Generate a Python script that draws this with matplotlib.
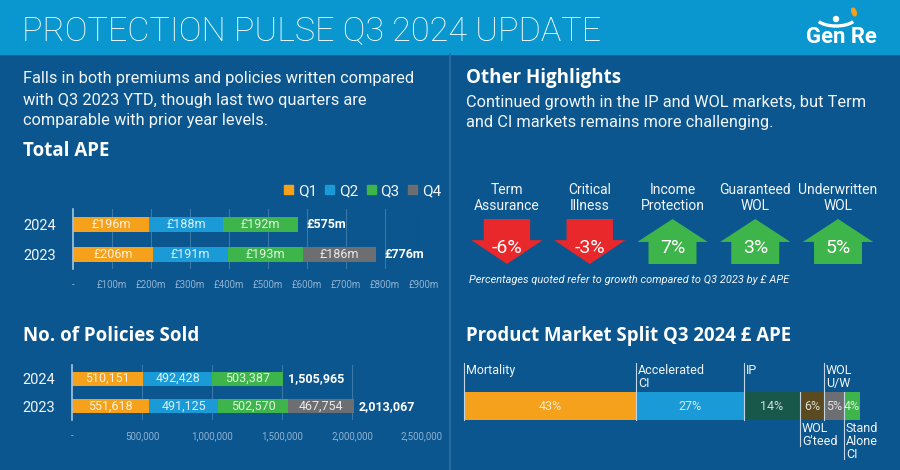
import matplotlib
matplotlib.use('Agg')
import matplotlib.pyplot as plt
from matplotlib.patches import Rectangle, Polygon, Arc, Ellipse
from matplotlib.lines import Line2D
from matplotlib.transforms import Affine2D
import matplotlib.ticker as mticker
import numpy as np

# ---------------- data ----------------
years = ['2024', '2023']
quarters = ['Q1', 'Q2', 'Q3', 'Q4']

ape_q1 = [196, 206]
ape_q2 = [188, 191]
ape_q3 = [192, 193]
ape_q4 = [0, 186]
ape_total = [575, 776]

pol_q1 = [510151, 551618]
pol_q2 = [492428, 491125]
pol_q3 = [503387, 502570]
pol_q4 = [0, 467754]
pol_total = [1505965, 2013067]

products = ['Term\nAssurance', 'Critical\nIllness', 'Income\nProtection',
            'Guaranteed\nWOL', 'Underwritten\nWOL']
growth = [-6, -3, 7, 3, 5]

split_labels = ['Mortality', 'Accelerated\nCI', 'IP', "WOL\nG'teed", 'WOL\nU/W',
                'Stand\nAlone\nCI']
split_pct = [43, 27, 14, 6, 5, 4]
split_side = ['up', 'up', 'up', 'down', 'up', 'down']

# ---------------- style ----------------
W, H = 900, 470
BG = '#0b568e'
HEADER = '#0a97cf'
ORANGE = '#f6a11c'
BLUE = '#1a9ad6'
GREEN = '#3db54a'
GREY = '#6d6e71'
RED = '#e8282b'
TEAL = '#17584a'
BROWN = '#5b4a1f'
TXT = '#f2f6fa'
TICK = '#8fb2d2'
GRID = '#3a78aa'
SPINE = '#a8c4de'
q_colors = [ORANGE, BLUE, GREEN, GREY]
split_colors = [ORANGE, BLUE, TEAL, BROWN, GREY, GREEN]

BODY = 'Roboto'
HEAD = 'Open Sans'

fig = plt.figure(figsize=(9, 4.7), dpi=100)
fig.patch.set_facecolor(BG)
px_t = Affine2D().scale(1, -1).translate(0, H)


def fx(x):
    return x / W


def fy(y):
    return 1 - y / H


def axes_px(x0, y0, x1, y1):
    ax = fig.add_axes([fx(x0), fy(y1), (x1 - x0) / W, (y1 - y0) / H])
    ax.set_facecolor('none')
    return ax


renderer = fig.canvas.get_renderer()


def fit(t, width_px):
    w = t.get_window_extent(renderer).width
    t.set_fontsize(t.get_fontsize() * width_px / w)
    return t.get_fontsize()


# header
fig.add_artist(Rectangle((0, 0), W, 54, transform=px_t, color=HEADER, zorder=0))
fig.add_artist(Line2D([450, 450], [54, 470], transform=px_t, color='#2b6da1', lw=1.2))

title = fig.text(fx(22), fy(31), 'PROTECTION PULSE Q3 2024 UPDATE', color='white',
                 family=BODY, weight='light', fontsize=24, va='center', ha='left')
fit(title, 580)

# logo
logo = fig.text(fx(806), fy(37), 'Gen Re', color='white',
                family=['Liberation Sans Narrow', 'Roboto'], weight='bold',
                fontsize=19, va='center', ha='left')
fit(logo, 71)
fig.add_artist(Arc((836, 17), 40, 18, theta1=15, theta2=165, transform=px_t,
                   color='white', lw=2.4))
fig.add_artist(Ellipse((836, 19), 5, 5, transform=px_t, color='white'))
fig.add_artist(Ellipse((854, 12), 4, 8, angle=-20, transform=px_t, color=ORANGE))

# left paragraph
left_lines = ['Falls in both premiums and policies written compared',
              'with Q3 2023 YTD, though last two quarters are',
              'comparable with prior year levels.']
ts = []
for i, line in enumerate(left_lines):
    ts.append(fig.text(fx(23), fy(79 + 21 * i), line, color=TXT, family=BODY,
                       fontsize=12, va='center', ha='left'))
fs = fit(ts[0], 389)
for t in ts[1:]:
    t.set_fontsize(fs)

h1 = fig.text(fx(23), fy(151), 'Total APE', color='white', family=HEAD, weight='bold',
              fontsize=13, va='center', ha='left')
fit(h1, 86)
h2 = fig.text(fx(23), fy(336), 'No. of Policies Sold', color='white', family=HEAD,
              weight='bold', fontsize=13, va='center', ha='left')
fit(h2, 174)

# right paragraph
h3 = fig.text(fx(466), fy(78), 'Other Highlights', color='white', family=HEAD,
              weight='bold', fontsize=13, va='center', ha='left')
fit(h3, 154)
right_lines = ['Continued growth in the IP and WOL markets, but Term',
               'and CI markets remains more challenging.']
ts = []
for i, line in enumerate(right_lines):
    ts.append(fig.text(fx(466), fy(102 + 21 * i), line, color=TXT, family=BODY,
                       fontsize=12, va='center', ha='left'))
fs = fit(ts[0], 399)
for t in ts[1:]:
    t.set_fontsize(fs)

h4 = fig.text(fx(466), fy(336), 'Product Market Split Q3 2024 £ APE', color='white',
              family=HEAD, weight='bold', fontsize=14, va='center', ha='left')
fit(h4, 327)


# ---------------- stacked bar charts ----------------
def stacked(ax, series, totals, fmt_seg, fmt_tot, xmax, step, tickfmt, grid_step,
            bar_h, tot_off):
    ypos = np.arange(len(years))
    left = np.zeros(len(years))
    for vals, c in zip(series, q_colors):
        vals = np.array(vals, float)
        ax.barh(ypos, vals, left=left, height=bar_h, color=c, edgecolor='none', zorder=3)
        for i, (v, l) in enumerate(zip(vals, left)):
            if v > 0:
                ax.text(l + v / 2, i, fmt_seg(v), ha='center', va='center',
                        color='white', alpha=0.85, family=BODY, fontsize=9, zorder=4)
        left += vals
    for i, (l, tot) in enumerate(zip(left, totals)):
        ax.annotate(fmt_tot(tot), (l, i), xytext=(tot_off, 0), textcoords='offset pixels',
                    ha='left', va='center', color='white', weight='bold', family=BODY,
                    fontsize=9, zorder=4)
    ax.set_xlim(0, xmax)
    ax.set_ylim(len(years) - 0.5, -0.5)
    ax.set_yticks(ypos)
    ax.set_yticklabels(years, color=TXT, family=BODY, fontsize=10.5)
    ax.set_xticks(np.arange(0, xmax + step / 2, step))
    ax.xaxis.set_major_formatter(mticker.FuncFormatter(tickfmt))
    for lab in ax.get_xticklabels():
        lab.set_family(BODY)
    ax.tick_params(axis='x', colors=TICK, labelsize=7, length=0, pad=8)
    ax.tick_params(axis='y', length=0, pad=12)
    for g in np.arange(grid_step, xmax + grid_step / 2, grid_step):
        ax.axvline(g, color=GRID, lw=0.8, zorder=1)
    for s in ['top', 'right', 'bottom']:
        ax.spines[s].set_visible(False)
    ax.spines['left'].set_color(SPINE)
    ax.spines['left'].set_linewidth(1.2)
    ax.spines['left'].set_zorder(5)


ax1 = axes_px(73, 209, 424, 269)
stacked(ax1, [ape_q1, ape_q2, ape_q3, ape_q4], ape_total,
        lambda v: f'£{v:.0f}m', lambda v: f'£{v:.0f}m', 900, 100,
        lambda v, p: '-' if v == 0 else f'£{v:.0f}m', 100, 0.5, 9)
leg_handles = [Rectangle((0, 0), 1, 1, color=c) for c in q_colors]
leg = ax1.legend(leg_handles, quarters, loc='center right', ncol=4,
                 bbox_to_anchor=(fx(441), fy(191)), bbox_transform=fig.transFigure,
                 frameon=False, handlelength=0.6, handleheight=0.6, handletextpad=0.3,
                 columnspacing=0.55, borderpad=0, borderaxespad=0,
                 prop={'family': BODY, 'size': 11})
for t in leg.get_texts():
    t.set_color(TXT)

ax2 = axes_px(72, 365, 422, 420)
stacked(ax2, [pol_q1, pol_q2, pol_q3, pol_q4], pol_total,
        lambda v: f'{v:,.0f}', lambda v: f'{v:,.0f}', 2500000, 500000,
        lambda v, p: '-' if v == 0 else f'{v:,.0f}', 500000, 0.52, 5)

# ---------------- arrows ----------------
ax3 = axes_px(465.6, 219, 879.4, 264)
ax3.set_xlim(-0.5, len(products) - 0.5)
ax3.set_ylim(0, 1)
ax3.axis('off')
for i, (p, g) in enumerate(zip(products, growth)):
    if g < 0:
        sw, hw, hb = 0.28, 0.43, 0.53
        pts = [(i - sw, 1), (i + sw, 1), (i + sw, hb), (i + hw, hb), (i, 0),
               (i - hw, hb), (i - sw, hb)]
        col = RED
    else:
        sw, hw, hb = 0.29, 0.425, 0.49
        pts = [(i, 1), (i + hw, hb), (i + sw, hb), (i + sw, 0), (i - sw, 0),
               (i - sw, hb), (i - hw, hb)]
        col = GREEN
    ax3.add_patch(Polygon(pts, closed=True, color=col, lw=0))
    ax3.text(i, 0.36, f'{g}%', ha='center', va='center', color='white', family=BODY,
             fontsize=14)
    ax3.annotate(p, (i, 1), xytext=(0, 6), textcoords='offset pixels', ha='center',
                 va='bottom', color=TXT, family=BODY, fontsize=10, linespacing=1.15,
                 annotation_clip=False)

foot = fig.text(fx(469), fy(280), 'Percentages quoted refer to growth compared to Q3 2023 by £ APE',
                color=TXT, family=BODY, style='italic', fontsize=8.5, va='center', ha='left')
fit(foot, 316)

# ---------------- product split ----------------
ax4 = axes_px(464, 392, 860, 420)
ax4.set_xlim(0, sum(split_pct))
ax4.set_ylim(0, 1)
ax4.axis('off')
left = 0
xt = ax4.get_xaxis_transform()
for lab, v, c, side in zip(split_labels, split_pct, split_colors, split_side):
    ax4.barh(0.5, v, left=left, height=1, color=c, edgecolor='none')
    ax4.text(left + v / 2, 0.5, f'{v}%', ha='center', va='center', color='white',
             alpha=0.8, family=BODY, fontsize=9)
    if side == 'up':
        ax4.plot([left, left], [0, 2.04], transform=xt, color='#c3d4e4', lw=0.8,
                 clip_on=False)
        ax4.text(left + 0.5, 2.0, lab, transform=xt, ha='left', va='top', color=TXT,
                 family=BODY, fontsize=9, linespacing=1.0, clip_on=False)
    else:
        n = lab.count('\n') + 1
        ax4.plot([left, left], [1, -0.45 - 0.47 * (n - 1)], transform=xt,
                 color='#c3d4e4', lw=0.8, clip_on=False)
        ax4.text(left + 0.5, -0.07, lab, transform=xt, ha='left', va='top', color=TXT,
                 family=BODY, fontsize=9, linespacing=1.0, clip_on=False)
    left += v

fig.savefig('out.png', dpi=100, facecolor=BG)
